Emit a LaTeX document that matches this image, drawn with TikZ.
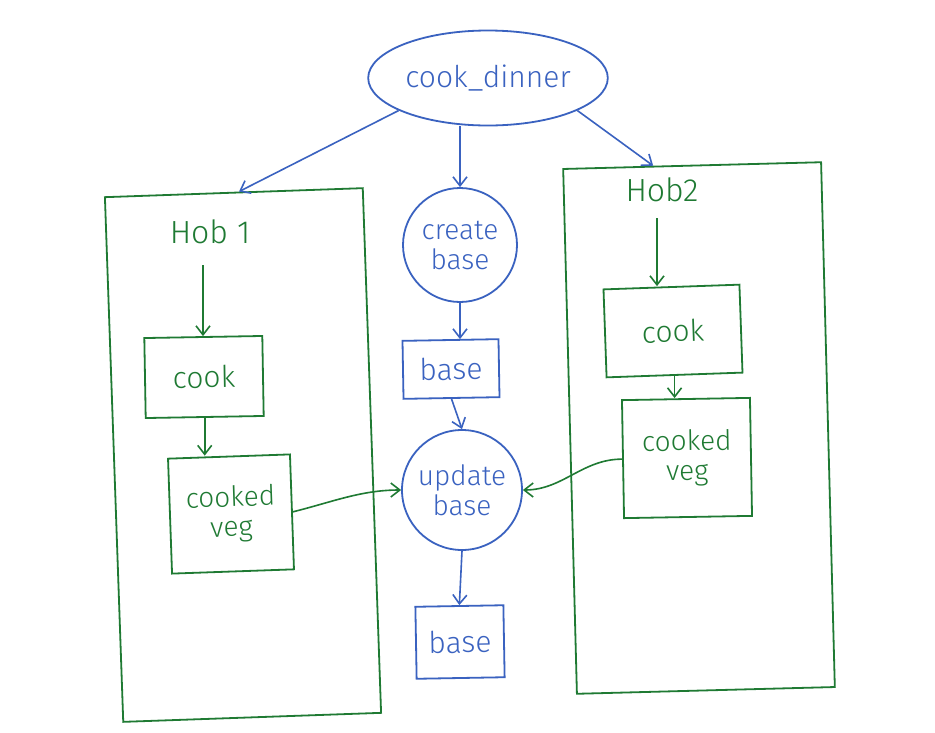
\documentclass[tikz,border=0pt]{standalone}
\usepackage{fontspec}
\setmainfont{Fira Sans Light}
\usetikzlibrary{arrows.meta,calc,shapes.geometric}
\definecolor{pblue}{HTML}{3A62C0}
\definecolor{pgreen}{HTML}{1F7A33}
\tikzset{
  lbl/.style={font=\fontsize{30}{32}\selectfont, align=center, inner sep=2pt},
  bbox/.style={draw=pblue, text=pblue, line width=1.8pt, lbl},
  gbox/.style={draw=pgreen, text=pgreen, line width=1.8pt, lbl},
  barr/.style={draw=pblue, line width=1.6pt, -{Straight Barb[length=9pt,width=14pt]}},
  garr/.style={draw=pgreen, line width=1.6pt, -{Straight Barb[length=9pt,width=14pt]}},
  hob/.style={draw=pgreen, line width=1.8pt, minimum width=258pt, minimum height=525pt, inner sep=0pt},
}
\begin{document}
\begin{tikzpicture}[x=1pt,y=-1pt]
\useasboundingbox (0,0) rectangle (935,732);
\fill[white] (0,0) rectangle (935,732);
% containers
\node[hob, rotate=2] (hob1) at (243,455) {};
\node[hob, rotate=1.5] (hob2) at (699,428) {};
% top
\node[bbox, ellipse, minimum width=230pt, minimum height=95pt] (dinner) at (488,78) {cook\_dinner};
% left hob
\node[lbl, text=pgreen, font=\fontsize{32}{34}\selectfont] (h1) at (210,232) {Hob 1};
\coordinate (h1s) at (203,265);
\node[gbox, minimum width=118pt, minimum height=80pt, rotate=1] (cook1) at (204,377) {cook};
\node[gbox, minimum width=122pt, minimum height=115pt, rotate=2, font=\fontsize{28}{30}\selectfont] (veg1) at (231,514) {cooked\\veg};
% centre
\node[bbox, circle, minimum size=114pt, inner sep=0pt, font=\fontsize{28}{30}\selectfont] (create) at (460,245) {create\\base};
\node[bbox, minimum width=96pt, minimum height=58pt, rotate=1] (base1) at (451,369) {base};
\node[bbox, circle, minimum size=120pt, inner sep=0pt, font=\fontsize{28}{30}\selectfont] (update) at (462,490) {update\\base};
\node[bbox, minimum width=88pt, minimum height=72pt, rotate=1] (base2) at (460,642) {base};
% right hob
\node[lbl, text=pgreen, font=\fontsize{32}{34}\selectfont] (h2) at (662,190) {Hob2};
\coordinate (h2s) at (657,218);
\node[gbox, minimum width=136pt, minimum height=88pt, rotate=2] (cook2) at (673,331) {cook};
\node[gbox, minimum width=128pt, minimum height=118pt, rotate=1, font=\fontsize{28}{30}\selectfont] (veg2) at (687,458) {cooked\\veg};
% arrows
\draw[barr] (dinner.200) -- ($(hob1.north west)!0.52!(hob1.north east)$);
\draw[barr] (dinner.-20) -- ($(hob2.north west)!0.35!(hob2.north east)$);
\draw[barr] (dinner.south -| create.north) -- (create.north);
\draw[barr] (create.south) -- (create.south |- base1.north);
\draw[barr] (base1.south) -- (update.north);
\draw[barr] (update.south) -- (base2.north);
\draw[garr] (h1s) -- (h1s |- cook1.north);
\draw[garr] (cook1.south) -- (veg1.north -| cook1.south);
\draw[garr] (h2s) -- (h2s |- cook2.north);
\draw[garr] (cook2.south) -- (veg2.north -| cook2.south);
\draw[garr] (veg1.east) .. controls +(40,-10) and +(-40,0) .. (update.west);
\draw[garr] (veg2.west) .. controls +(-40,0) and +(40,0) .. (update.east);
\end{tikzpicture}
\end{document}
